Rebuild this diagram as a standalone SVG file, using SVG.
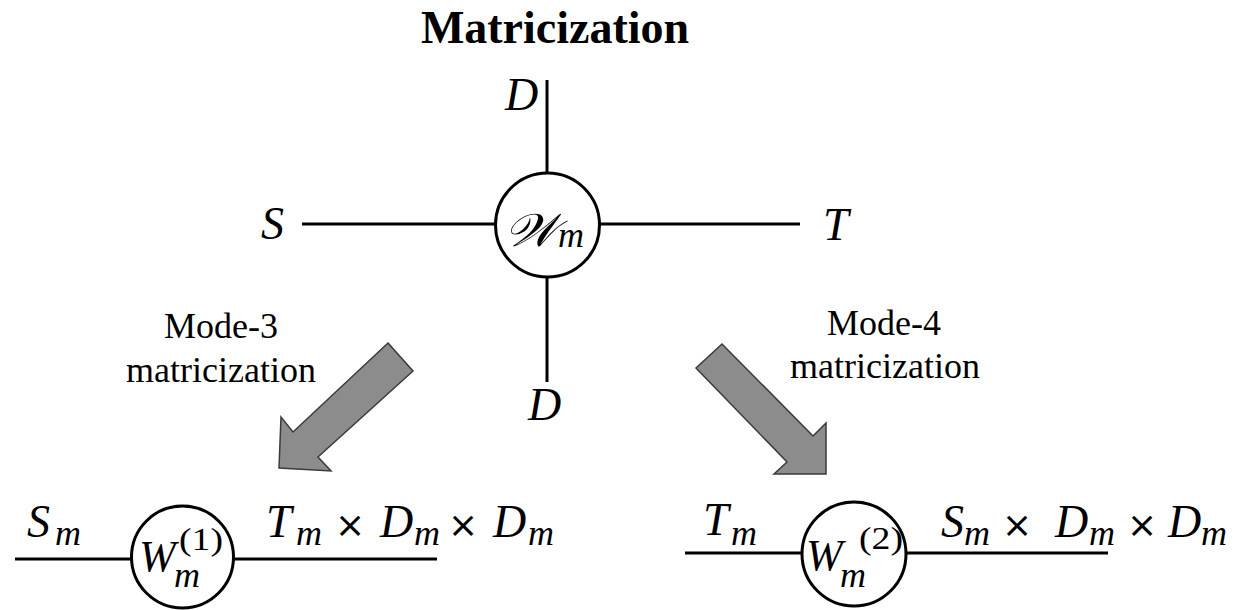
<svg xmlns="http://www.w3.org/2000/svg" width="1245" height="610" viewBox="0 0 1245 610">
<style>
.ln{stroke:#000;stroke-width:3;fill:none}
.nd{stroke:#000;stroke-width:3;fill:#fff}
.ar{fill:#8c8c8c;stroke:#3a3a3a;stroke-width:1.5;stroke-linejoin:miter}
.tt{font-family:"Liberation Serif",serif;font-weight:bold;font-size:46px}
.lb{font-family:"Liberation Serif",serif;font-size:36px}
.mi{font-family:"Liberation Serif",serif;font-style:italic;font-size:46px}
.mb{font-family:"Liberation Serif",serif;font-style:italic;font-size:46px}
.ms{font-family:"Liberation Serif",serif;font-style:italic;font-size:36px}
.mw{font-family:"Liberation Serif",serif;font-style:italic;font-size:44px}
.sp{font-family:"Liberation Serif",serif;font-size:32px}
.op{font-family:"DejaVu Sans",sans-serif;font-size:36px}
</style>
<rect width="1245" height="610" fill="#fff"/>
<text class="tt" x="555" y="43" text-anchor="middle">Matricization</text>
<g id="connectors">
<line class="ln" x1="547" y1="80" x2="547" y2="175"/>
<line class="ln" x1="547" y1="278" x2="547" y2="382"/>
<line class="ln" x1="302" y1="224" x2="495" y2="224"/>
<line class="ln" x1="600" y1="224" x2="800" y2="224"/>
<line class="ln" x1="15" y1="559" x2="132" y2="559"/>
<line class="ln" x1="233" y1="559" x2="437" y2="559"/>
<line class="ln" x1="685" y1="553" x2="802" y2="553"/>
<line class="ln" x1="906" y1="553" x2="1108" y2="553"/>
<polygon class="ar" points="388,343 413,371 318,457 331,471 279,468 281,417 293,432"/>
<polygon class="ar" points="696,368 722,344 813,436 826,423 826,474 774,474 787,462"/>
</g>
<g id="node-W">
<circle class="nd" cx="547.5" cy="225" r="52"/>
<text class="mi" x="504" y="246" font-size="72" textLength="53" lengthAdjust="spacingAndGlyphs">𝒲</text>
<text class="ms" x="558" y="247" font-size="38">m</text>
</g>
<g id="label-D-top"><text class="mi" x="505" y="110">D</text></g>
<g id="label-D-bottom"><text class="mi" x="528" y="420">D</text></g>
<g id="label-S"><text class="mi" x="261" y="239">S</text></g>
<g id="label-T"><text class="mi" x="823" y="240">T</text></g>
<g id="label-mode3">
<text class="lb" x="221" y="338" text-anchor="middle">Mode-3</text>
<text class="lb" x="221" y="382" text-anchor="middle">matricization</text>
</g>
<g id="label-mode4">
<text class="lb" x="884" y="335" text-anchor="middle">Mode-4</text>
<text class="lb" x="885" y="378" text-anchor="middle">matricization</text>
</g>
<g id="node-W1">
<circle class="nd" cx="182.5" cy="557" r="51"/>
<text class="mw" x="139" y="571">W</text>
<text class="sp" x="179" y="550" textLength="44" lengthAdjust="spacingAndGlyphs">(1)</text>
<text class="ms" x="174" y="587">m</text>
</g>
<g id="label-Sm"><text class="mb" x="27" y="537">S</text><text class="ms" x="55" y="545">m</text></g>
<g id="label-TDD1">
<text class="mb" x="266" y="537">T</text><text class="ms" x="296" y="545">m</text>
<text class="op" x="335" y="537">×</text>
<text class="mb" x="380" y="537">D</text><text class="ms" x="414" y="545">m</text>
<text class="op" x="448" y="537">×</text>
<text class="mb" x="493" y="537">D</text><text class="ms" x="528" y="545">m</text>
</g>
<g id="node-W2">
<circle class="nd" cx="854" cy="554" r="52"/>
<text class="mw" x="806" y="570">W</text>
<text class="sp" x="859" y="549" textLength="44" lengthAdjust="spacingAndGlyphs">(2)</text>
<text class="ms" x="840" y="587">m</text>
</g>
<g id="label-Tm"><text class="mb" x="703" y="535">T</text><text class="ms" x="731" y="545">m</text></g>
<g id="label-SDD2">
<text class="mb" x="941" y="537">S</text><text class="ms" x="964" y="545">m</text>
<text class="op" x="1002" y="537">×</text>
<text class="mb" x="1055" y="537">D</text><text class="ms" x="1089" y="545">m</text>
<text class="op" x="1127" y="537">×</text>
<text class="mb" x="1168" y="537">D</text><text class="ms" x="1201" y="545">m</text>
</g>
</svg>
